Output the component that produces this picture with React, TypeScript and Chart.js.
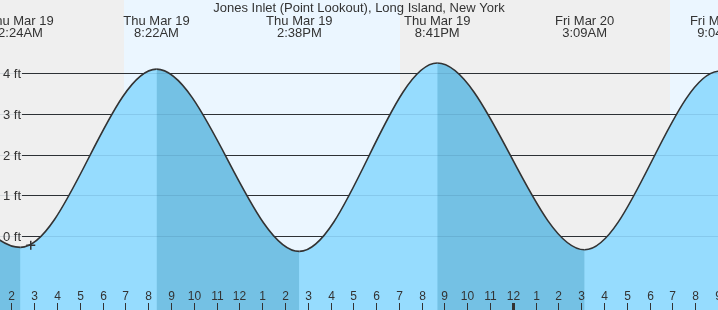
import React, { useEffect, useRef } from 'react';
import { Chart, registerables } from 'chart.js';

Chart.register(...registerables);

// ---- data ----
const TITLE = 'Jones Inlet (Point Lookout), Long Island, New York';
// hours since midnight Thu Mar 19 (offscreen neighbours included so the curve enters/leaves correctly)
const tideHours = [-3.83, 2.4, 8.367, 14.633, 20.683, 27.15, 33.067, 39.4];
const tideFeet = [4.2, -0.28, 4.1, -0.38, 4.25, -0.34, 4.05, -0.3];
const extremeDays = ['', 'Thu Mar 19', 'Thu Mar 19', 'Thu Mar 19', 'Thu Mar 19', 'Fri Mar 20', 'Fri Mar 20', ''];
const extremeTimes = ['', '2:24AM', '8:22AM', '2:38PM', '8:41PM', '3:09AM', '9:04AM', ''];
const sunriseHours = [6.94, 30.9];
const sunsetHours = [19.05, 43.1];
const tickHours = [2, 3, 4, 5, 6, 7, 8, 9, 10, 11, 12, 13, 14, 15, 16, 17, 18, 19, 20, 21, 22, 23, 24, 25, 26, 27, 28, 29, 30, 31, 32, 33];
const tickLabels = ['2', '3', '4', '5', '6', '7', '8', '9', '10', '11', '12', '1', '2', '3', '4', '5', '6', '7', '8', '9', '10', '11', '12', '1', '2', '3', '4', '5', '6', '7', '8', '9'];
const midnightHours = [24];
const feetTicks = [0, 1, 2, 3, 4];
const feetLabels = ['0 ft', '1 ft', '2 ft', '3 ft', '4 ft'];
const markerHour = [2.85];
const markerFeet = [-0.23];

const X_MIN = 1.5;
const X_MAX = 33.0;
const Y_MIN = -1.82;
const Y_MAX = 5.8;

const NIGHT = '#efefef';
const DAY = '#ebf6ff';
const RISING = '#96dcfe';
const FALLING = '#74c1e4';
const INK = '#333333';
const FONT = '13px "Liberation Sans", Arial, sans-serif';
const TICK_FONT = '12px "Liberation Sans", Arial, sans-serif';

const decorPlugin = {
  id: 'tideDecor',
  beforeDatasetsDraw(chart: any) {
    const { ctx, chartArea: a, scales } = chart;
    const x = scales.x;
    const y = scales.y;
    ctx.save();
    ctx.fillStyle = NIGHT;
    ctx.fillRect(a.left, a.top, a.right - a.left, a.bottom - a.top);
    ctx.fillStyle = DAY;
    sunriseHours.forEach((s: number, i: number) => {
      const x0 = Math.max(a.left, Math.round(x.getPixelForValue(s)));
      const x1 = Math.min(a.right, Math.round(x.getPixelForValue(sunsetHours[i])));
      if (x1 > x0) ctx.fillRect(x0, a.top, x1 - x0, a.bottom - a.top);
    });
    ctx.strokeStyle = INK;
    ctx.lineWidth = 1;
    feetTicks.forEach((v) => {
      const py = Math.round(y.getPixelForValue(v)) + 0.5;
      ctx.beginPath();
      ctx.moveTo(22, py);
      ctx.lineTo(a.right, py);
      ctx.stroke();
    });
    ctx.restore();
  },
  afterDatasetsDraw(chart: any) {
    const { ctx, chartArea: a, scales } = chart;
    const x = scales.x;
    const y = scales.y;
    ctx.save();
    // faint grid lines through the fill
    ctx.strokeStyle = 'rgba(0,40,80,0.10)';
    ctx.lineWidth = 1;
    feetTicks.forEach((v) => {
      const py = Math.round(y.getPixelForValue(v)) + 0.5;
      ctx.beginPath();
      ctx.moveTo(0, py);
      ctx.lineTo(a.right, py);
      ctx.stroke();
    });
    ctx.fillStyle = INK;
    // y labels
    ctx.font = FONT;
    ctx.textAlign = 'left';
    ctx.textBaseline = 'middle';
    feetTicks.forEach((v, i) => {
      ctx.fillText(feetLabels[i], 3, Math.round(y.getPixelForValue(v)) + 1);
    });
    // hour ticks
    ctx.font = TICK_FONT;
    ctx.textAlign = 'center';
    ctx.textBaseline = 'alphabetic';
    tickHours.forEach((h, i) => {
      const px = Math.round(x.getPixelForValue(h));
      ctx.fillText(tickLabels[i], px + 0.5, 300);
      const w = midnightHours.includes(h) ? 3 : 1;
      ctx.fillRect(px - Math.floor(w / 2), 303, w, a.bottom - 303);
    });
    // title + extreme labels
    ctx.font = FONT;
    ctx.fillText(TITLE, (a.left + a.right) / 2, 12);
    tideHours.forEach((h, i) => {
      if (!extremeDays[i]) return;
      const px = x.getPixelForValue(h);
      ctx.fillText(extremeDays[i], px, 25);
      ctx.fillText(extremeTimes[i], px, 37);
    });
    ctx.restore();
  },
};

export default function App() {
  const ref = useRef<HTMLCanvasElement | null>(null);
  useEffect(() => {
    document.body.style.margin = '0';
    const canvas = ref.current;
    if (!canvas) return;
    const tidePoints = tideHours.map((h, i) => ({ x: h, y: tideFeet[i] }));
    const chart = new Chart(canvas, {
      type: 'line',
      data: {
        datasets: [
          {
            label: 'Tide underlay',
            data: tidePoints,
            borderWidth: 0,
            borderColor: 'rgba(0,0,0,0)',
            pointRadius: 0,
            cubicInterpolationMode: 'monotone',
            fill: 'start',
            backgroundColor: RISING,
            order: 2,
          } as any,
          {
            label: 'Tide',
            data: tidePoints,
            borderColor: INK,
            borderWidth: 1.6,
            pointRadius: 0,
            cubicInterpolationMode: 'monotone',
            fill: 'start',
            backgroundColor: RISING,
            segment: {
              backgroundColor: (c: any) => (c.p1.parsed.y > c.p0.parsed.y ? RISING : FALLING),
            },
            order: 1,
          } as any,
          {
            label: 'Now',
            data: markerHour.map((h, i) => ({ x: h, y: markerFeet[i] })),
            showLine: false,
            pointStyle: 'cross',
            pointRadius: 4.5,
            borderColor: INK,
            borderWidth: 1.5,
            backgroundColor: INK,
            order: 0,
          } as any,
        ],
      },
      options: {
        animation: false,
        responsive: false,
        events: [],
        layout: { padding: 0, autoPadding: false },
        plugins: { legend: { display: false }, tooltip: { enabled: false }, title: { display: false } },
        scales: {
          x: { type: 'linear', min: X_MIN, max: X_MAX, display: false },
          y: { type: 'linear', min: Y_MIN, max: Y_MAX, display: false },
        },
      },
      plugins: [decorPlugin],
    });
    return () => chart.destroy();
  }, []);
  return (
    <div style={{ position: 'absolute', left: 0, top: 0, width: 718, height: 310 }}>
      <canvas ref={ref} width={718} height={310} style={{ display: 'block', width: 718, height: 310 }} />
    </div>
  );
}
